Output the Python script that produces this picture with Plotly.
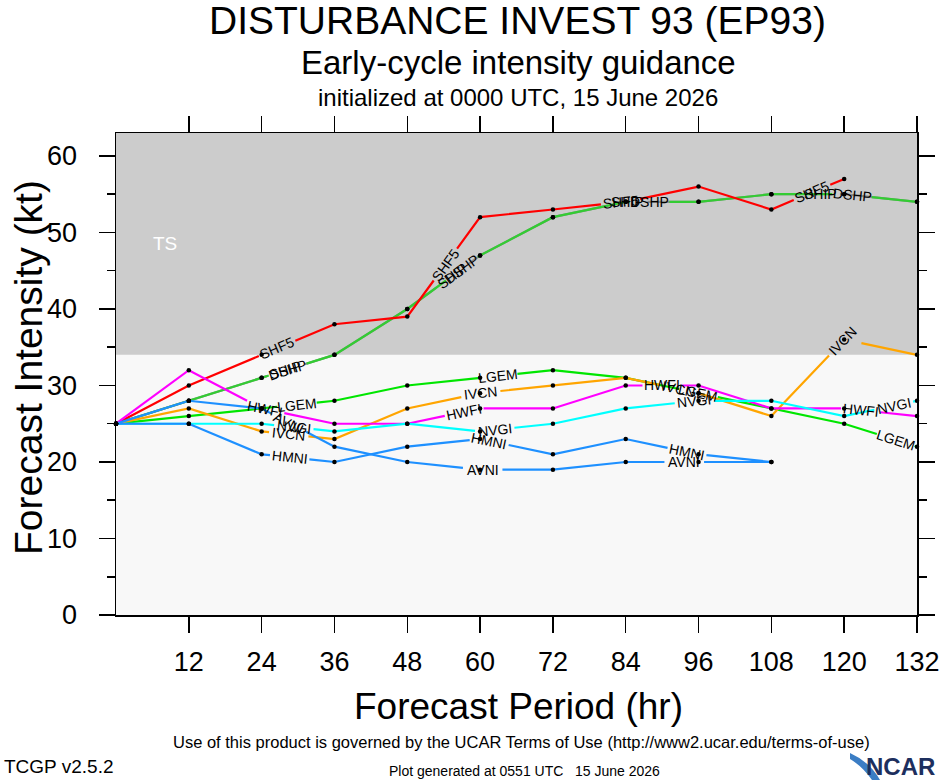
import math
import plotly.graph_objects as go

# ---------------- data ----------------
hours = [0, 12, 24, 36, 48, 60, 72, 84, 96, 108, 120, 132]
x_ticks = [12, 24, 36, 48, 60, 72, 84, 96, 108, 120, 132]
y_ticks = [0, 10, 20, 30, 40, 50, 60]

SHIP = [25, 28, 31, 34, 40, 47, 52, 54, 54, 55, 55, 54]
DSHP = [25, 28, 31, 34, 40, 47, 52, 54, 54, 55, 55, 54]
SHF5 = [25, 30, 34, 38, 39, 52, 53, 54, 56, 53, 57]
LGEM = [25, 26, 27, 28, 30, 31, 32, 31, 29, 27, 25, 22]
IVCN = [25, 27, 24, 23, 27, 29, 30, 31, 29, 26, 36, 34]
HWFI = [25, 32, 27, 25, 25, 27, 27, 30, 30, 27, 27, 26]
NVGI = [25, 25, 25, 24, 25, 24, 25, 27, 28, 28, 26, 28]
HMNI = [25, 25, 21, 20, 22, 23, 21, 23, 21, 20]
AVNI = [25, 28, 27, 22, 20, 19, 19, 20, 20, 20]

# (name, values, colour, label start px, label spacing px) drawn bottom -> top
models = [
    ("SHIP", SHIP, "#8c8c8c", 178, 193),
    ("DSHP", DSHP, "#33cc33", 180, 203),
    ("SHF5", SHF5, "#ff0000", 178, 200),
    ("LGEM", LGEM, "#00e600", 182, 203),
    ("IVCN", IVCN, "#ffa500", 178, 200),
    ("HWFI", HWFI, "#ff00ff", 176, 202),
    ("NVGI", NVGI, "#00ffff", 178, 202),
    ("HMNI", HMNI, "#1e90ff", 180, 202),
    ("AVNI", AVNI, "#1e90ff", 180, 202),
]

TS_LEVEL = 34

# ---------------- geometry (window pixel frame) ----------------
W, H = 940, 780
L, R, T, B = 116, 917, 133, 615   # plot area in window pixels
XR = (0, 132)
YR = (0, 63)
LABEL_FS = 14


def to_px(x, y):
    return (L + (x - XR[0]) / (XR[1] - XR[0]) * (R - L),
            B - (y - YR[0]) / (YR[1] - YR[0]) * (B - T))


def to_data(px, py):
    return (XR[0] + (px - L) / (R - L) * (XR[1] - XR[0]),
            YR[0] + (B - py) / (B - T) * (YR[1] - YR[0]))


def paper(px, py):
    return (px - L) / (R - L), (B - py) / (B - T)


def build(vals, start, spacing, text):
    hrs = hours[:len(vals)]
    pts = [to_px(h, v) for h, v in zip(hrs, vals)]
    cum = [0.0]
    for i in range(1, len(pts)):
        cum.append(cum[-1] + math.dist(pts[i - 1], pts[i]))
    total = cum[-1]

    def at(s):
        for i in range(len(pts) - 1):
            if cum[i] <= s <= cum[i + 1]:
                f = (s - cum[i]) / (cum[i + 1] - cum[i])
                p = (pts[i][0] + f * (pts[i + 1][0] - pts[i][0]),
                     pts[i][1] + f * (pts[i + 1][1] - pts[i][1]))
                ang = math.degrees(math.atan2(pts[i + 1][1] - pts[i][1],
                                              pts[i + 1][0] - pts[i][0]))
                return p, ang
        return pts[-1], 0.0

    w = len(text) * 0.6 * LABEL_FS
    pad = 3
    centers = []
    s = start
    while s + w / 2 <= total:
        centers.append(s)
        s += spacing
    gaps = [(c - w / 2 - pad, c + w / 2 + pad) for c in centers]

    vis = []
    a = 0.0
    for g0, g1 in gaps:
        if g0 > a:
            vis.append((a, g0))
        a = max(a, g1)
    if a < total:
        vis.append((a, total))

    xs, ys = [], []
    for a, b in vis:
        seg = [at(a)[0]]
        for i in range(len(pts)):
            if a < cum[i] < b:
                seg.append(pts[i])
        seg.append(at(b)[0])
        for p in seg:
            dx, dy = to_data(*p)
            xs.append(dx)
            ys.append(dy)
        xs.append(None)
        ys.append(None)

    labels = []
    for c in centers:
        p, ang = at(c)
        if ang > 90:
            ang -= 180
        if ang < -90:
            ang += 180
        dx, dy = to_data(*p)
        labels.append((dx, dy, ang))
    return xs, ys, labels


FONT = "Liberation Sans, Arial, Helvetica, sans-serif"

fig = go.Figure()
annotations = []

for name, vals, col, st, sp in models:
    xs, ys, labs = build(vals, st, sp, name)
    fig.add_trace(go.Scatter(x=xs, y=ys, mode="lines", name=name,
                             line=dict(color=col, width=2.2),
                             connectgaps=False, hoverinfo="skip",
                             showlegend=False, cliponaxis=False))
    for lx, ly, ang in labs:
        annotations.append(dict(x=lx, y=ly, xref="x", yref="y", text=name,
                                showarrow=False, textangle=ang,
                                xanchor="center", yanchor="middle",
                                font=dict(family=FONT, size=LABEL_FS, color="black")))

# data point dots
for name, vals, col, st, sp in models:
    fig.add_trace(go.Scatter(x=hours[:len(vals)], y=vals, mode="markers",
                             marker=dict(color="black", size=4.5),
                             hoverinfo="skip", showlegend=False, cliponaxis=False))


def ann_px(text, px, py, size, xanchor="center", color="black", angle=0):
    xp, yp = paper(px, py)
    annotations.append(dict(text=text, x=xp, y=yp, xref="paper", yref="paper",
                            showarrow=False, xanchor=xanchor, yanchor="middle",
                            textangle=angle, borderpad=0,
                            font=dict(family=FONT, size=size, color=color)))


ann_px("DISTURBANCE INVEST 93 (EP93)", 517, 21, 39)
ann_px("Early-cycle intensity guidance", 518, 62, 33)
ann_px("initialized at 0000 UTC, 15 June 2026", 518, 97, 24)
ann_px("Forecast Intensity (kt)", 28, 368, 39, angle=-90)
ann_px("Forecast Period (hr)", 518, 706, 37)
ann_px("Use of this product is governed by the UCAR Terms of Use (http://www2.ucar.edu/terms-of-use)",
       521, 742, 16.5)
ann_px("TCGP v2.5.2", 3, 766, 19, xanchor="left")
ann_px("Plot generated at 0551 UTC   15 June 2026", 524, 771, 14)
ann_px("<b>NCAR</b>", 936, 766, 24, xanchor="right", color="#1d2f5e")

# TS label
annotations.append(dict(text="TS", x=8.0, y=48.5, xref="x", yref="y", showarrow=False,
                        font=dict(family=FONT, size=19, color="white")))

shapes = [
    dict(type="rect", xref="paper", yref="y", x0=0, x1=1, y0=TS_LEVEL, y1=YR[1],
         fillcolor="#cccccc", line=dict(width=0), layer="below"),
]
# NCAR logo swoosh
p0 = paper(850, 753)
p1 = paper(880, 780)
pm = paper(870, 762)
p2 = paper(872, 780)
pm2 = paper(862, 766)
p3 = paper(850, 759)
shapes.append(dict(type="path", xref="paper", yref="paper",
                   path=f"M {p0[0]},{p0[1]} Q {pm[0]},{pm[1]} {p1[0]},{p1[1]} "
                        f"L {p2[0]},{p2[1]} Q {pm2[0]},{pm2[1]} {p3[0]},{p3[1]} Z",
                   fillcolor="#3b7dc4", line=dict(width=0)))

fig.update_layout(
    width=W, height=H, autosize=False,
    margin=dict(l=L, r=W - R, t=T, b=H - B, pad=0, autoexpand=False),
    paper_bgcolor="white", plot_bgcolor="#f8f8f8",
    showlegend=False,
    annotations=annotations, shapes=shapes,
    font=dict(family=FONT, color="black"),
)
fig.update_xaxes(range=list(XR), tickvals=x_ticks, ticktext=[str(v) for v in x_ticks],
                 ticks="outside", ticklen=16, tickwidth=1.5, tickcolor="black",
                 showline=True, linecolor="black", linewidth=1.5, mirror="ticks",
                 showgrid=False, zeroline=False, tickfont=dict(size=27, family=FONT),
                 ticklabelstandoff=6, automargin=False)
fig.update_yaxes(range=list(YR), tickvals=y_ticks, ticktext=[str(v) for v in y_ticks],
                 ticks="outside", ticklen=16, tickwidth=1.5, tickcolor="black",
                 showline=True, linecolor="black", linewidth=1.5, mirror="ticks",
                 showgrid=False, zeroline=False, tickfont=dict(size=27, family=FONT),
                 minor=dict(dtick=5, tick0=0, ticks="outside", ticklen=8, tickwidth=1.5,
                            tickcolor="black", showgrid=False),
                 ticklabelstandoff=16, automargin=False)

fig.write_html("out.html",
               config={"displayModeBar": False, "staticPlot": True},
               post_script="document.body.style.margin='0px';"
                           "document.body.style.overflow='hidden';")
